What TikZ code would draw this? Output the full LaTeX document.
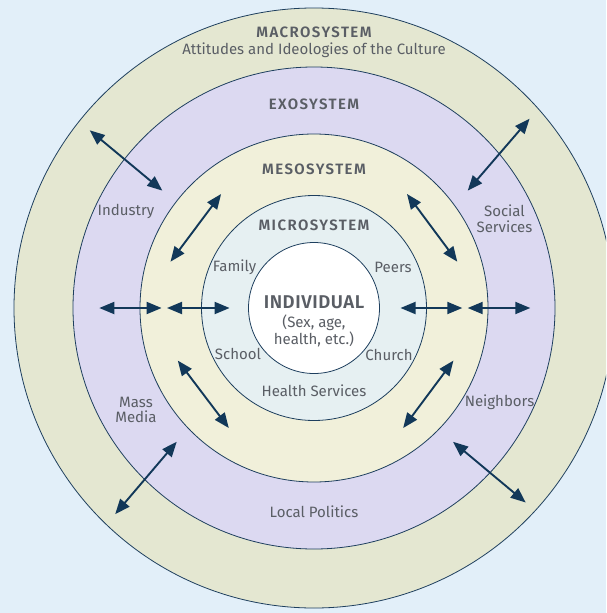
\documentclass[tikz,border=0pt]{standalone}
\usepackage{fontspec}
\setmainfont{Fira Sans}[BoldFont={Fira Sans SemiBold}]
\usetikzlibrary{arrows.meta}
\definecolor{bgblue}{HTML}{E2EFF9}
\definecolor{macrofill}{HTML}{E4E7D1}
\definecolor{exofill}{HTML}{DCD9F1}
\definecolor{mesofill}{HTML}{F1F0DA}
\definecolor{microfill}{HTML}{E6F0F2}
\definecolor{edge}{HTML}{1E3F5E}
\definecolor{arrowc}{HTML}{123859}
\definecolor{labelc}{HTML}{5A5E65}
\begin{document}
\begin{tikzpicture}[x=1pt,y=-1pt,
  ring/.style={circle, draw=edge, line width=0.8pt, inner sep=0pt},
  title/.style={font=\bfseries\fontsize{15}{17}\selectfont\addfontfeatures{LetterSpace=9.5}, text=labelc, inner sep=0pt},
  lbl/.style={font=\fontsize{15}{15.5}\selectfont, text=labelc, align=center, inner sep=0pt},
  biarrow/.style={draw=arrowc, line width=1.9pt,
    {Triangle[length=15pt,width=12pt]}-{Triangle[length=15pt,width=12pt]}},
]
\useasboundingbox (0,0) rectangle (606,613);
\fill[bgblue] (0,0) rectangle (606,613);
\coordinate (C) at (314,308);
\begin{scope}
\clip (0,0) rectangle (606,613);
% nested system circles
\node[ring, fill=macrofill, minimum size=600pt] (macro) at (C) {};
\node[ring, fill=exofill, minimum size=482pt] (exo) at (C) {};
\node[ring, fill=mesofill, minimum size=348pt] (meso) at (C) {};
\node[ring, fill=microfill, minimum size=225pt] (micro) at (C) {};
\node[ring, fill=white, minimum size=131pt] (indiv) at (C) {};
\end{scope}

% titles
\node[title] (tmacro) at (314,32) {MACROSYSTEM};
\node[lbl] (tcult) at (314,50) {Attitudes and Ideologies of the Culture};
\node[title] (texo) at (314,104.5) {EXOSYSTEM};
\node[title] (tmeso) at (314,169.5) {MESOSYSTEM};
\node[title] (tmicro) at (314,225.5) {MICROSYSTEM};
\node[title, font=\bfseries\fontsize{18.5}{20}\selectfont\addfontfeatures{LetterSpace=3}] (tindiv) at (314,302) {INDIVIDUAL};
\node[lbl] (tsex) at (314,331) {(Sex, age,\\health, etc.)};

% microsystem labels
\node[lbl] (family) at (234.6,267) {Family};
\node[lbl] (peers) at (393,267) {Peers};
\node[lbl] (school) at (238,353.5) {School};
\node[lbl] (church) at (389,354.5) {Church};
\node[lbl] (health) at (314,390.5) {Health Services};

% exosystem labels
\node[lbl] (industry) at (126,211) {Industry};
\node[lbl] (social) at (504.5,218.5) {Social\\Services};
\node[lbl] (mass) at (136,410) {Mass\\Media};
\node[lbl] (neigh) at (499.5,402) {Neighbors};
\node[lbl] (local) at (314,512) {Local Politics};

% connector end points
\coordinate (a1) at (89.7,130.3);  \coordinate (b1) at (162.3,190.6);
\coordinate (a2) at (529.6,118.7); \coordinate (b2) at (467.7,190.6);
\coordinate (a3) at (221.1,194);   \coordinate (b3) at (170.5,261.7);
\coordinate (a4) at (407,194);     \coordinate (b4) at (457.3,261.7);
\coordinate (a5) at (99.3,308);    \coordinate (b5) at (161.6,308);
\coordinate (a6) at (167,308);     \coordinate (b6) at (229.6,308);
\coordinate (a7) at (400.5,308);   \coordinate (b7) at (462.3,308);
\coordinate (a8) at (467.7,308);   \coordinate (b8) at (530.3,308);
\coordinate (a9) at (177.8,360.6); \coordinate (b9) at (228.8,428);
\coordinate (a10) at (453.4,360.6);\coordinate (b10) at (403.2,428);
\coordinate (a11) at (176.7,441.8);\coordinate (b11) at (115.2,514.1);
\coordinate (a12) at (453,441.8);  \coordinate (b12) at (525.7,502.5);

% two-way influences between the systems
\foreach \i in {1,...,12} { \draw[biarrow] (a\i) -- (b\i); }
\end{tikzpicture}
\end{document}
